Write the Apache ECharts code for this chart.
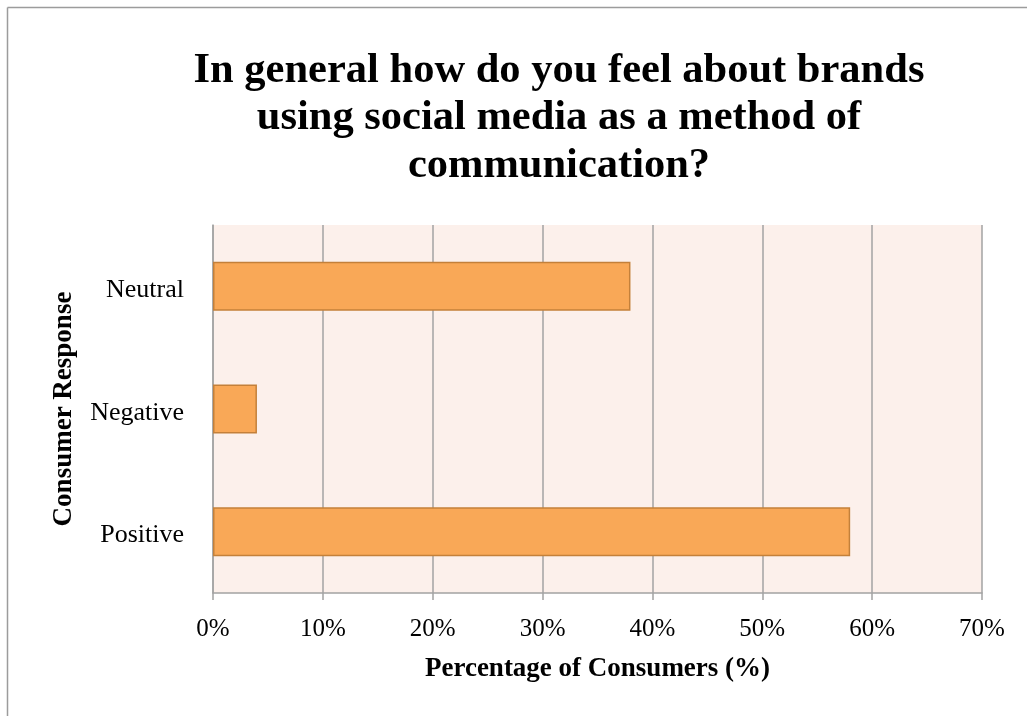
<!DOCTYPE html>
<html>
<head>
<meta charset="utf-8">
<script src="https://cdn.jsdelivr.net/npm/echarts@6/dist/echarts.min.js"></script>
<style>
  html, body { margin: 0; padding: 0; background: #ffffff; }
  #chart { width: 1027px; height: 716px; }
</style>
</head>
<body>
<div id="chart"></div>
<script>
// Survey: attitudes towards brands using social media
const titleLines = [
  'In general how do you feel about brands',
  'using social media as a method of',
  'communication?'
];
const categories = ['Positive', 'Negative', 'Neutral'];   // bottom to top
const percentages = [58, 4, 38];
const xTicks = { min: 0, max: 70, interval: 10 };
const xAxisName = 'Percentage of Consumers (%)';
const yAxisName = 'Consumer Response';

const serif = '"Liberation Serif", "Times New Roman", serif';
const gridGray = '#a3a3a3';

const chart = echarts.init(document.getElementById('chart'), null, { renderer: 'canvas' });

chart.setOption({
  backgroundColor: '#ffffff',
  animation: false,
  graphic: [
    // outer frame (top and left edges)
    { type: 'line', shape: { x1: 7.5, y1: 7.5, x2: 1027, y2: 7.5 },
      style: { stroke: '#9c9c9c', lineWidth: 1.5 } },
    { type: 'line', shape: { x1: 7.5, y1: 7.5, x2: 7.5, y2: 716 },
      style: { stroke: '#9c9c9c', lineWidth: 1.5 } },
    { type: 'text', x: 559, y: 47,
      style: {
        text: titleLines.join('\n'),
        fill: '#000000',
        font: 'bold 42.5px ' + serif,
        lineHeight: 47.5,
        align: 'center',
        verticalAlign: 'top'
      } }
  ],
  grid: {
    left: 213, top: 225, right: 45, bottom: 123,
    show: true, backgroundColor: '#fcf0eb', borderWidth: 0
  },
  xAxis: {
    type: 'value',
    min: xTicks.min, max: xTicks.max, interval: xTicks.interval,
    name: xAxisName,
    nameLocation: 'middle',
    nameGap: 63,
    nameTextStyle: { fontFamily: serif, fontWeight: 'bold', fontSize: 27, color: '#000' },
    axisLine: { show: true, lineStyle: { color: gridGray, width: 1.5 } },
    axisTick: { show: true, length: 7, lineStyle: { color: gridGray, width: 1.5 } },
    axisLabel: { formatter: '{value}%', fontFamily: serif, fontSize: 25, color: '#000', margin: 24 },
    splitLine: { show: true, lineStyle: { color: gridGray, width: 1.5 } }
  },
  yAxis: {
    type: 'category',
    data: categories,
    name: yAxisName,
    nameLocation: 'middle',
    nameRotate: 90,
    nameGap: 135,
    nameTextStyle: { fontFamily: serif, fontWeight: 'bold', fontSize: 27, color: '#000' },
    axisLine: { show: true, lineStyle: { color: gridGray, width: 1.5 } },
    axisTick: { show: false },
    axisLabel: {
      margin: 29,
      formatter: (v) => '{c|' + v + '}',
      rich: { c: { fontFamily: serif, fontSize: 26, color: '#000', padding: [8, 0, 0, 0] } }
    },
    splitLine: { show: false }
  },
  series: [{
    type: 'bar',
    data: percentages,
    barWidth: '40%',
    itemStyle: { color: '#f9a857', borderColor: '#c4803a', borderWidth: 1.5 }
  }]
});
</script>
</body>
</html>
